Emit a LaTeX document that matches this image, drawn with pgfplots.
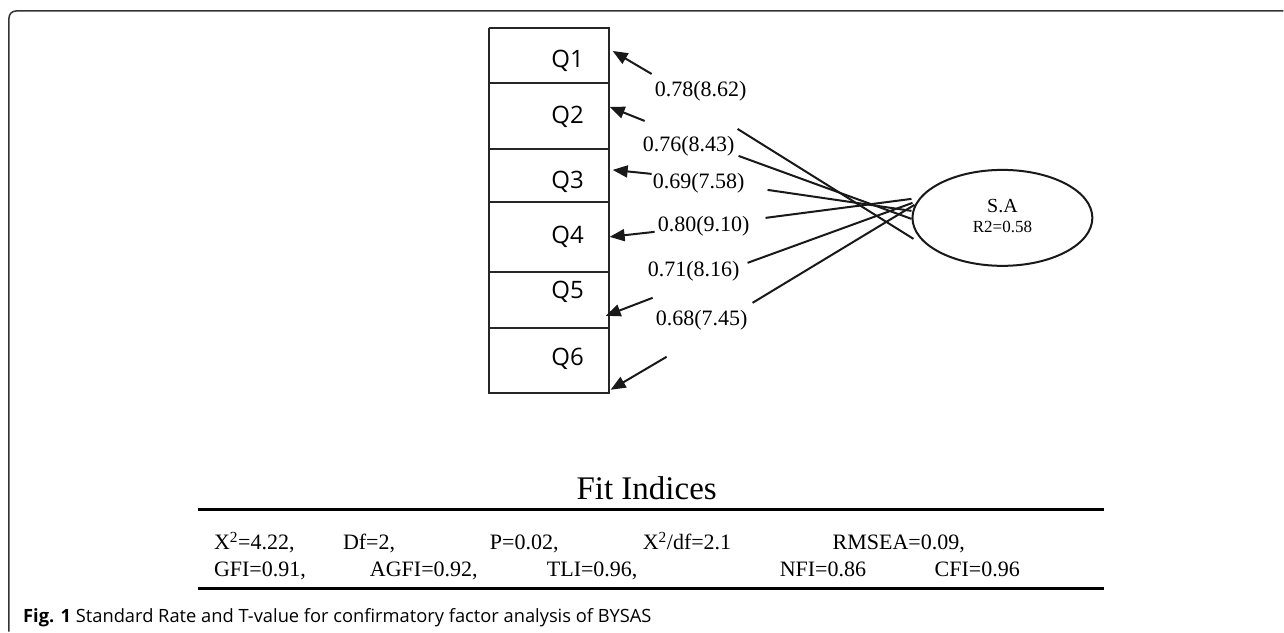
\documentclass[border=0pt]{standalone}
\usepackage{fontspec}
\setmainfont{Liberation Serif}
\newfontfamily\osans{Open Sans}
\usepackage{pgfplots}
\pgfplotsset{compat=1.18}
\usetikzlibrary{arrows.meta,shapes.geometric}

% sizes in bp, one bp per pixel of the reference
\newcommand{\fs}[1]{\fontsize{#1bp}{#1bp}\selectfont}

\begin{document}
\begin{tikzpicture}
\begin{axis}[
    width=1284bp, height=632bp, scale only axis,
    xmin=0, xmax=1284, ymin=0, ymax=632,
    y dir=reverse,
    hide axis, clip=false,
]
% keeps the page at the full reference size
\addplot[draw=none] coordinates {(0,0)(1284,632)};

% outer frame
\addplot[color=black!80, line width=1.5bp, rounded corners=7bp]
    coordinates {(9,632)(9,11)(1284,11)};

% item boxes
\addplot[black!85, line width=2bp] coordinates {(489,28)(609,28)(609,83)(489,83)(489,28)};
\addplot[black!85, line width=2bp] coordinates {(489,83)(609,83)(609,149)(489,149)(489,83)};
\addplot[black!85, line width=2bp] coordinates {(489,149)(609,149)(609,202)(489,202)(489,149)};
\addplot[black!85, line width=2bp] coordinates {(489,202)(609,202)(609,272)(489,272)(489,202)};
\addplot[black!85, line width=2bp] coordinates {(489,272)(609,272)(609,328)(489,328)(489,272)};
\addplot[black!85, line width=2bp] coordinates {(489,328)(609,328)(609,393)(489,393)(489,328)};

\node[anchor=base, inner sep=0] at (axis cs:568,68) {\osans\fs{24}Q1};
\node[anchor=base, inner sep=0] at (axis cs:568,124) {\osans\fs{24}Q2};
\node[anchor=base, inner sep=0] at (axis cs:568,189) {\osans\fs{24}Q3};
\node[anchor=base, inner sep=0] at (axis cs:568,244) {\osans\fs{24}Q4};
\node[anchor=base, inner sep=0] at (axis cs:568,299) {\osans\fs{24}Q5};
\node[anchor=base, inner sep=0] at (axis cs:568,366) {\osans\fs{24}Q6};

% arrows to the items
\addplot[black!90, line width=2bp, -{Triangle[length=15bp,width=12bp]}] coordinates {(652,74)(613,51)};
\addplot[black!90, line width=2bp, -{Triangle[length=15bp,width=12bp]}] coordinates {(645,121)(610,107)};
\addplot[black!90, line width=2bp, -{Triangle[length=15bp,width=12bp]}] coordinates {(652,174)(613,170)};
\addplot[black!90, line width=2bp, -{Triangle[length=15bp,width=12bp]}] coordinates {(655,232)(610,237)};
\addplot[black!90, line width=2bp, -{Triangle[length=15bp,width=12bp]}] coordinates {(653,298)(606,316)};
\addplot[black!90, line width=2bp, -{Triangle[length=15bp,width=12bp]}] coordinates {(667,357)(611,390)};

% loadings
\node[anchor=base west, inner sep=0] at (axis cs:655,97) {\fs{22}0.78(8.62)};
\node[anchor=base west, inner sep=0] at (axis cs:643,152) {\fs{22}0.76(8.43)};
\node[anchor=base west, inner sep=0] at (axis cs:653,189) {\fs{22}0.69(7.58)};
\node[anchor=base west, inner sep=0] at (axis cs:658,232) {\fs{22}0.80(9.10)};
\node[anchor=base west, inner sep=0] at (axis cs:648,277) {\fs{22}0.71(8.16)};
\node[anchor=base west, inner sep=0] at (axis cs:656,326) {\fs{22}0.68(7.45)};

% lines from the factor
\addplot[black!90, line width=2bp] coordinates {(738,129)(914,239)};
\addplot[black!90, line width=2bp] coordinates {(739,156)(912,219)};
\addplot[black!90, line width=2bp] coordinates {(768,190)(912,211)};
\addplot[black!90, line width=2bp] coordinates {(766,218)(912,199)};
\addplot[black!90, line width=2bp] coordinates {(748,263)(913,203)};
\addplot[black!90, line width=2bp] coordinates {(753,303)(915,205)};

% factor
\node[ellipse, draw=black!90, line width=2bp, minimum width=180bp, minimum height=96bp, inner sep=0]
    at (axis cs:1003,218) {};
\node[anchor=base, inner sep=0] at (axis cs:1003,213) {\fs{20}S.A};
\node[anchor=base, inner sep=0] at (axis cs:1003,233) {\fs{17}R2=0.58};

% fit indices table
\node[anchor=base, inner sep=0] at (axis cs:647,500) {\fs{33}Fit Indices};
\addplot[black, line width=2.7bp] coordinates {(198,510)(1105,510)};
\addplot[black, line width=2.7bp] coordinates {(198,589)(1105,589)};

\node[anchor=base west, inner sep=0] at (axis cs:214,550) {\fs{22}X\textsuperscript{2}=4.22,};
\node[anchor=base west, inner sep=0] at (axis cs:343,550) {\fs{22}Df=2,};
\node[anchor=base west, inner sep=0] at (axis cs:490,550) {\fs{22}P=0.02,};
\node[anchor=base west, inner sep=0] at (axis cs:643,550) {\fs{22}X\textsuperscript{2}/df=2.1};
\node[anchor=base west, inner sep=0] at (axis cs:833,550) {\fs{22}RMSEA=0.09,};
\node[anchor=base west, inner sep=0] at (axis cs:214,577) {\fs{22}GFI=0.91,};
\node[anchor=base west, inner sep=0] at (axis cs:370,577) {\fs{22}AGFI=0.92,};
\node[anchor=base west, inner sep=0] at (axis cs:547,577) {\fs{22}TLI=0.96,};
\node[anchor=base west, inner sep=0] at (axis cs:780,577) {\fs{22}NFI=0.86};
\node[anchor=base west, inner sep=0] at (axis cs:935,577) {\fs{22}CFI=0.96};

% caption
\node[anchor=base west, inner sep=0] at (axis cs:23,623)
    {\osans\fs{18.3}\textbf{Fig. 1} Standard Rate and T-value for confirmatory factor analysis of BYSAS};
\end{axis}
\end{tikzpicture}
\end{document}
